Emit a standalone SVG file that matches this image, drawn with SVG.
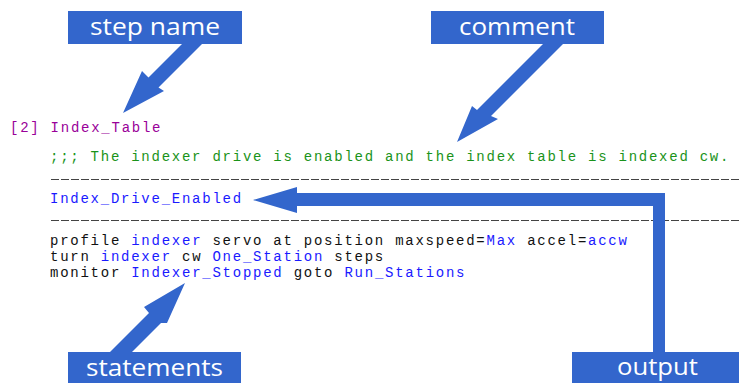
<svg xmlns="http://www.w3.org/2000/svg" width="739" height="383" viewBox="0 0 739 383">
<style>
.box{fill:#3366CC}
.lbl{fill:#fff;font-family:"Open Sans","DejaVu Sans",sans-serif;font-size:24px}
.code{font-family:"Liberation Mono","DejaVu Sans Mono",monospace;font-size:14px;letter-spacing:1.75px}
.k{fill:#111}
.b{fill:#1a1aff}
.p{fill:#990099}
.g{fill:#1a931a}
.dash{stroke:#444;stroke-width:1;stroke-dasharray:8 2}
.arr{fill:#3366CC}
</style>
<rect width="739" height="383" fill="#fff"/>
<g id="code">
<text class="code p" x="10" y="132">[2] Index_Table</text>
<text class="code g" x="50" y="161">;;; The indexer drive is enabled and the index table is indexed cw.</text>
<line class="dash" x1="51" y1="179.5" x2="739" y2="179.5"/>
<text class="code b" x="50" y="203">Index_Drive_Enabled</text>
<line class="dash" x1="51" y1="220.5" x2="739" y2="220.5"/>
<text class="code k" x="50" y="245" xml:space="preserve">profile <tspan class="b">indexer</tspan> servo at position maxspeed=<tspan class="b">Max</tspan> accel=<tspan class="b">accw</tspan></text>
<text class="code k" x="50" y="261" xml:space="preserve">turn <tspan class="b">indexer</tspan> cw <tspan class="b">One_Station</tspan> steps</text>
<text class="code k" x="50" y="277" xml:space="preserve">monitor <tspan class="b">Indexer_Stopped</tspan> goto <tspan class="b">Run_Stations</tspan></text>
</g>
<g id="connectors">
<polygon class="arr" points="182,44 202,44 158.5,87.5 164,91 123,113 142,71 148.5,77.5"/>
<polygon class="arr" points="543,44 563,44 491,116 498,119 457,142 472,106 477,110"/>
<polygon class="arr" points="253,200 297,187 297,193 665,193 665,352 653,352 653,206 297,206 297,213"/>
<polygon class="arr" points="110,352 149,313 144,307 185,283 167,323 161,323 132,352"/>
</g>
<g id="step-name">
<rect class="box" x="68" y="11" width="174" height="33"/>
<text class="lbl" x="155" y="35" text-anchor="middle" textLength="130" lengthAdjust="spacingAndGlyphs">step name</text>
</g>
<g id="comment">
<rect class="box" x="431" y="11" width="173" height="33"/>
<text class="lbl" x="517" y="35" text-anchor="middle" textLength="116" lengthAdjust="spacingAndGlyphs">comment</text>
</g>
<g id="statements">
<rect class="box" x="68" y="352" width="173" height="31"/>
<text class="lbl" x="154.5" y="376" text-anchor="middle" textLength="137" lengthAdjust="spacingAndGlyphs">statements</text>
</g>
<g id="output">
<rect class="box" x="572" y="352" width="167" height="31"/>
<text class="lbl" x="657.5" y="375" text-anchor="middle" textLength="81" lengthAdjust="spacingAndGlyphs">output</text>
</g>
</svg>
